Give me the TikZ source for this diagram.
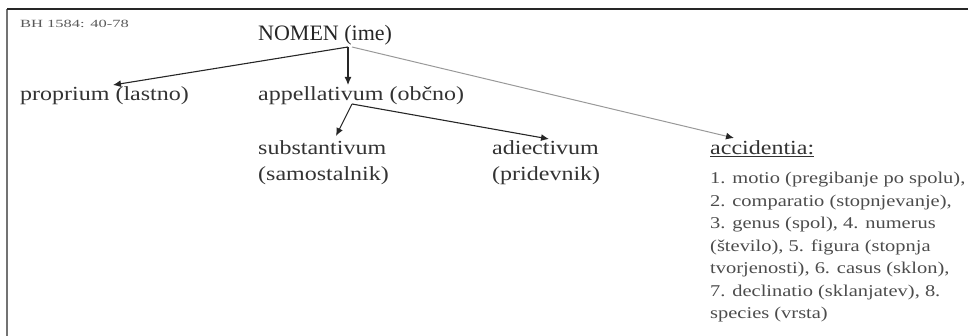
\documentclass[tikz,border=0pt]{standalone}
\usepackage{fontspec}
\setmainfont{Liberation Serif}
\newfontfamily\widefont[FakeStretch=1.2]{Liberation Serif}
\newfontfamily\listfont[FakeStretch=1.24]{Liberation Serif}
\newfontfamily\notefont[FakeStretch=1.5]{Liberation Serif}
\usetikzlibrary{arrows.meta}

\tikzset{
	word/.style={anchor=base west,inner sep=0pt,text=black!80,
		font=\widefont\fontsize{20}{26}\selectfont},
	twoline/.style={anchor=north west,inner sep=0pt,align=left,text=black!80,
		font=\widefont\fontsize{20}{26}\selectfont},
	arr/.style={line width=1.1pt,black!85,-{Latex[length=8pt,width=7pt]}},
	grayarr/.style={line width=1pt,black!40,-{Latex[length=8pt,width=7pt,black!85]}}
}

\begin{document}
\begin{tikzpicture}[x=1pt,y=-1pt]
\useasboundingbox (0,0) rectangle (968,336);
% frame (only top and left edge are seen)
\draw[line width=1.2pt,black!55] (7,336) -- (7,9);
\draw[line width=1.5pt,black!85] (7,9) -- (968,9);

\node[anchor=base west,inner sep=0pt,text=black!65,font=\notefont\fontsize{11}{12}\selectfont] (BH) at (20,28) {BH 1584: 40-78};

\node[anchor=base west,inner sep=0pt,text=black!85,font=\fontsize{22}{26}\selectfont] (N) at (258,41) {NOMEN (ime)};
\node[word] (P) at (20,101) {proprium (lastno)};
\node[word] (A) at (258,101) {appellativum (občno)};
\node[twoline] (S) at (258,140) {substantivum\\(samostalnik)};
\node[twoline] (J) at (492,140) {adiectivum\\(pridevnik)};
\node[word] (C) at (710,155) {\underline{accidentia:}};
\node[anchor=north west,inner sep=0pt,align=left,text=black!70,
	font=\listfont\fontsize{16.5}{22.5}\selectfont] (L) at (710,172)
	{1. motio (pregibanje po spolu),\\
	2. comparatio (stopnjevanje),\\
	3. genus (spol), 4. numerus\\
	(število), 5. figura (stopnja\\
	tvorjenosti), 6. casus (sklon),\\
	7. declinatio (sklanjatev), 8.\\
	species (vrsta)};

% branching points and arrow ends
\coordinate (N0) at (348,47);
\coordinate (N1) at (352,47);
\coordinate (A0) at (352,104);
\coordinate (Pt) at (113,85);
\coordinate (At) at (348,85);
\coordinate (Ct) at (734,138);
\coordinate (St) at (336,136);
\coordinate (Jt) at (549,139);

\draw[arr] (N0) -- (Pt);
\draw[arr] (N0) -- (At);
\draw[grayarr] (N1) -- (Ct);
\draw[arr] (A0) -- (St);
\draw[arr] (A0) -- (Jt);
%\draw[arr] (A0) -- (C);
\end{tikzpicture}
\end{document}
